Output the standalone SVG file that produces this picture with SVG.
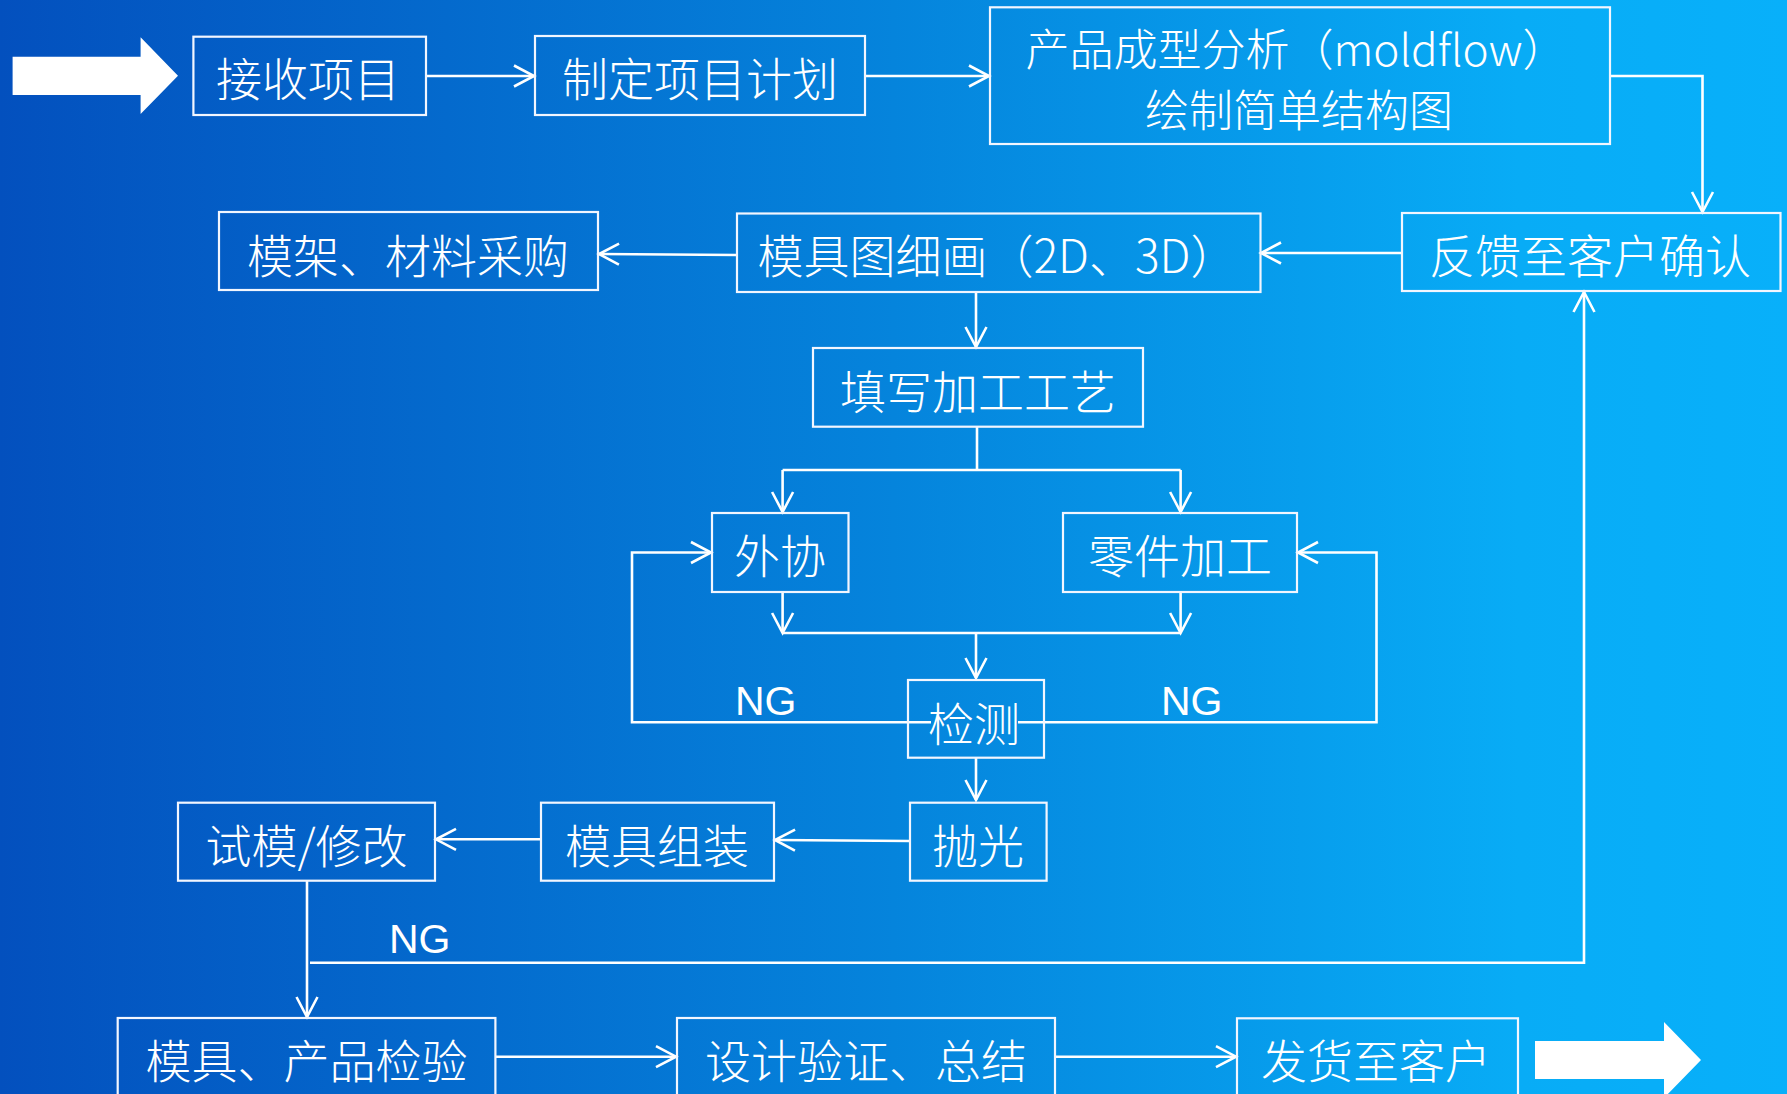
<svg xmlns="http://www.w3.org/2000/svg" width="1787" height="1094" viewBox="0 0 1787 1094">
<defs>
<linearGradient id="bg" x1="0" y1="0" x2="1" y2="0">
<stop offset="0" stop-color="#0350BE"/>
<stop offset="0.5" stop-color="#0584DC"/>
<stop offset="0.85" stop-color="#08ACF6"/>
<stop offset="1" stop-color="#08B0FA"/>
</linearGradient>
<marker id="arr" markerUnits="userSpaceOnUse" markerWidth="26" markerHeight="26" viewBox="-22 -13 26 26" refX="0" refY="0" orient="auto" overflow="visible">
<path d="M -20 -10.5 L 0 0 L -20 10.5" fill="none" stroke="#ffffff" stroke-width="2.6"/>
</marker>
<style>
.box{fill:none;stroke:#f2f6ff;stroke-width:2.2}
.t{font-family:"Noto Sans CJK SC","Noto Sans",sans-serif;font-size:46px;font-weight:300;fill:#ffffff;text-anchor:middle;dominant-baseline:central}
.t2{font-size:44px}
.ng{font-family:"Liberation Sans",Arial,sans-serif;font-size:41px;fill:#ffffff}
.c{fill:none;stroke:#ffffff;stroke-width:2.6}
.ca{fill:none;stroke:#ffffff;stroke-width:2.6;marker-end:url(#arr)}
.big{fill:#ffffff}
</style>
</defs>
<rect x="0" y="0" width="1787" height="1094" fill="url(#bg)"/>

<polygon class="big" points="12.6,56.7 140.6,56.7 140.6,37.3 178,75.7 140.6,114 140.6,95 12.6,95"/>
<polygon class="big" points="1535,1041 1664,1041 1664,1022 1701,1060 1664,1098 1664,1079 1535,1079"/>

<g id="connectors">
<line class="ca" x1="426" y1="76" x2="534" y2="76"/>
<line class="ca" x1="865" y1="76" x2="989" y2="76"/>
<polyline class="ca" points="1610,76 1702.5,76 1702.5,212"/>
<line class="ca" x1="1402" y1="253" x2="1261" y2="253"/>
<line class="ca" x1="737" y1="255" x2="599" y2="254"/>
<line class="ca" x1="976" y1="292" x2="976" y2="347"/>
<line class="c" x1="977" y1="427" x2="977" y2="470"/>
<line class="c" x1="782.6" y1="470" x2="1180.6" y2="470"/>
<line class="ca" x1="782.6" y1="470" x2="782.6" y2="512"/>
<line class="ca" x1="1180.6" y1="470" x2="1180.6" y2="512"/>
<line class="ca" x1="782.6" y1="592" x2="782.6" y2="633"/>
<line class="ca" x1="1180.6" y1="592" x2="1180.6" y2="633"/>
<line class="c" x1="782.6" y1="633" x2="1180.6" y2="633"/>
<line class="ca" x1="976" y1="633" x2="976" y2="678"/>
<polyline class="ca" points="931,722.3 632,722.3 632,552.5 711,552.5"/>
<polyline class="ca" points="1018,722.3 1376.5,722.3 1376.5,552.5 1298,552.5"/>
<line class="ca" x1="976" y1="758" x2="976" y2="800"/>
<line class="ca" x1="910" y1="841" x2="775" y2="840"/>
<line class="ca" x1="541" y1="839.3" x2="436" y2="839.3"/>
<line class="ca" x1="307" y1="881" x2="307" y2="1017"/>
<polyline class="ca" points="310,962.7 1584,962.7 1584,292"/>
<line class="ca" x1="495" y1="1056.7" x2="676" y2="1056.7"/>
<line class="ca" x1="1055" y1="1056.7" x2="1236" y2="1056.7"/>
</g>

<g id="n1"><rect class="box" x="193.4" y="36.7" width="232.6" height="78.3"/><text class="t" x="308" y="76">接收项目</text></g>
<g id="n2"><rect class="box" x="535" y="36" width="330" height="79"/><text class="t" x="700" y="76">制定项目计划</text></g>
<g id="n3"><rect class="box" x="990" y="7.3" width="620" height="136.7"/><text class="t t2" x="1296" y="47">产品成型分析（moldflow）</text><text class="t t2" x="1299" y="108">绘制简单结构图</text></g>
<g id="n4"><rect class="box" x="219" y="212" width="379" height="78"/><text class="t" x="408" y="253">模架、材料采购</text></g>
<g id="n5"><rect class="box" x="737" y="213.5" width="523.5" height="78.5"/><text class="t" x="997" y="253">模具图细画（2D、3D）</text></g>
<g id="n6"><rect class="box" x="1402" y="213" width="378.5" height="78"/><text class="t" x="1590" y="253">反馈至客户确认</text></g>
<g id="n7"><rect class="box" x="813" y="348" width="330" height="78.7"/><text class="t" x="978" y="389">填写加工工艺</text></g>
<g id="n8"><rect class="box" x="712" y="513" width="136.5" height="79"/><text class="t" x="780" y="553">外协</text></g>
<g id="n9"><rect class="box" x="1063" y="513" width="234" height="79"/><text class="t" x="1180" y="553">零件加工</text></g>
<g id="n10"><rect class="box" x="908" y="680" width="136" height="77.7"/><text class="t" x="974" y="720.5">检测</text></g>
<g id="n11"><rect class="box" x="178" y="802.7" width="257" height="78"/><text class="t" x="306.5" y="843">试模/修改</text></g>
<g id="n12"><rect class="box" x="541" y="802.7" width="233" height="78"/><text class="t" x="657" y="843">模具组装</text></g>
<g id="n13"><rect class="box" x="910" y="802.7" width="136.6" height="78"/><text class="t" x="978" y="843">抛光</text></g>
<g id="n14"><rect class="box" x="117.7" y="1018" width="377.7" height="90"/><text class="t" x="306.5" y="1058">模具、产品检验</text></g>
<g id="n15"><rect class="box" x="677" y="1018" width="378" height="90"/><text class="t" x="866" y="1058">设计验证、总结</text></g>
<g id="n16"><rect class="box" x="1237" y="1018.3" width="281" height="90"/><text class="t" x="1376" y="1058">发货至客户</text></g>

<text class="ng" x="735" y="715">NG</text>
<text class="ng" x="1161" y="715">NG</text>
<text class="ng" x="389" y="953">NG</text>
</svg>
